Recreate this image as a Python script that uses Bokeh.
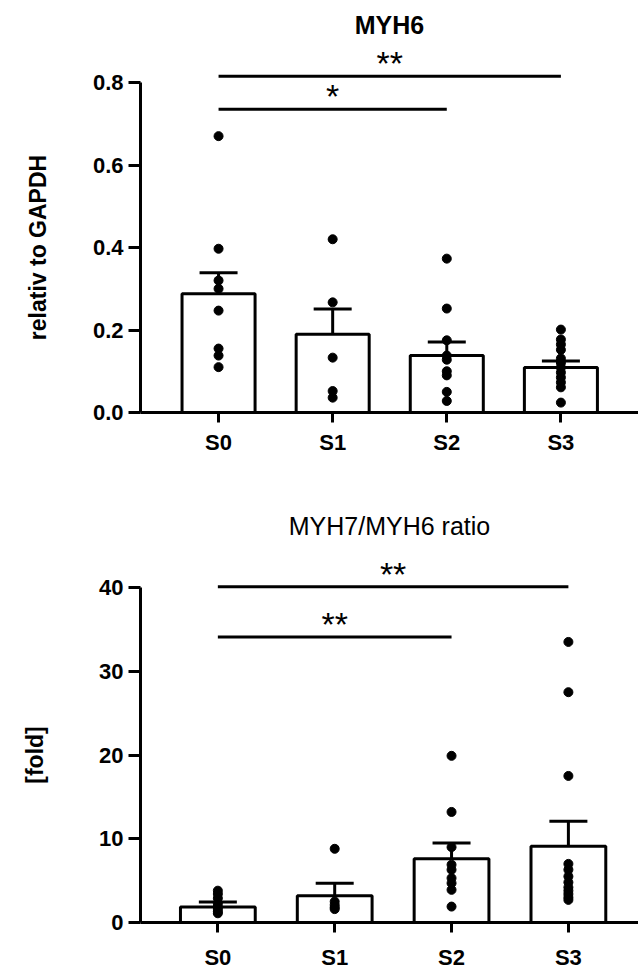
from bokeh.plotting import figure
from bokeh.layouts import column
from bokeh.models import Range1d, FixedTicker, Whisker, TeeHead, ColumnDataSource, Label
from bokeh.embed import file_html
from bokeh.resources import INLINE
from bokeh.core.properties import value

categories = ["S0", "S1", "S2", "S3"]

# ---- MYH6 (relative to GAPDH) ----
myh6_means = [0.288, 0.19, 0.138, 0.109]
myh6_sem = [0.051, 0.061, 0.033, 0.016]
myh6_S0 = [0.67, 0.397, 0.32, 0.30, 0.247, 0.155, 0.138, 0.11]
myh6_S1 = [0.42, 0.267, 0.133, 0.052, 0.036]
myh6_S2 = [0.373, 0.252, 0.175, 0.138, 0.128, 0.10, 0.09, 0.05, 0.028]
myh6_S3 = [0.201, 0.177, 0.165, 0.152, 0.131, 0.12, 0.109, 0.097, 0.085, 0.073, 0.061, 0.024]
myh6_sig_from = [0, 0]
myh6_sig_to = [2, 3]
myh6_sig_y = [0.735, 0.815]
myh6_sig_label = ["*", "**"]
myh6_yticks = [0.0, 0.2, 0.4, 0.6, 0.8]

# ---- MYH7/MYH6 ratio ----
ratio_means = [1.84, 3.2, 7.6, 9.1]
ratio_sem = [0.6, 1.5, 1.9, 3.0]
ratio_S0 = [3.8, 3.4, 2.9, 2.3, 1.9, 1.6, 1.3, 1.1]
ratio_S1 = [8.8, 2.5, 2.1, 1.8, 1.6]
ratio_S2 = [19.9, 13.2, 9.0, 6.9, 6.3, 5.3, 4.7, 3.9, 1.9]
ratio_S3 = [33.5, 27.5, 17.5, 7.0, 6.3, 5.5, 4.8, 4.2, 3.8, 3.4, 3.0, 2.7]
ratio_sig_from = [0, 0]
ratio_sig_to = [2, 3]
ratio_sig_y = [34.1, 40.1]
ratio_sig_label = ["**", "**"]
ratio_yticks = [0, 10, 20, 30, 40]

FONT = "Liberation Sans"
W = 638
AXIS_PX = 140  # pixel position of the y axis line


def panel(title, title_style, ylabel, means, sems, groups, sig_from, sig_to, sig_y, sig_label,
          yticks, x_axis, x_end, height, zero_px, px_per_unit, title_px, label_px,
          x_standoff, fmt):
    unit = (W - AXIS_PX) / (x_end - x_axis)
    x_start = x_axis - AXIS_PX / unit
    y_end = zero_px / px_per_unit
    y_start = -(height - zero_px) / px_per_unit
    p = figure(width=W, height=height, output_backend="svg", toolbar_location=None,
               x_range=Range1d(x_start, x_end), y_range=Range1d(y_start, y_end),
               min_border_left=0, min_border_right=0, min_border_top=0,
               min_border_bottom=0)
    p.outline_line_color = None
    p.xgrid.visible = False
    p.ygrid.visible = False
    p.background_fill_color = "white"
    p.border_fill_color = "white"

    xs = list(range(len(categories)))
    p.vbar(x=xs, top=means, width=0.64, fill_color="white", line_color="black", line_width=3)

    src = ColumnDataSource(dict(x=xs, upper=[m + s for m, s in zip(means, sems)],
                                lower=[m - s for m, s in zip(means, sems)]))
    w = Whisker(source=src, base="x", upper="upper", lower="lower", line_width=3,
                line_color="black",
                upper_head=TeeHead(size=38, line_width=3, line_color="black"),
                lower_head=TeeHead(size=38, line_width=3, line_color="black"))
    p.add_layout(w)

    px, py = [], []
    for i, g in enumerate(groups):
        px += [i] * len(g)
        py += g
    p.scatter(px, py, size=9, color="black")

    p.segment(x0=sig_from, x1=sig_to, y0=sig_y, y1=sig_y, line_width=3, line_color="black")
    mids = [(a + b) / 2 for a, b in zip(sig_from, sig_to)]
    p.text(x=mids, y=sig_y, text=sig_label, text_align="center", text_baseline="alphabetic",
           y_offset=-13, text_font=value(FONT), text_font_size="34px", text_color="black")

    xa = p.xaxis[0]
    xa.fixed_location = 0
    xa.ticker = FixedTicker(ticks=xs)
    xa.major_label_overrides = {i: c for i, c in enumerate(categories)}
    xa.bounds = (x_axis, x_end)
    xa.axis_line_width = 3
    xa.major_tick_line_width = 3
    xa.major_tick_out = 10
    xa.major_tick_in = 0
    xa.minor_tick_line_color = None
    xa.major_label_standoff = x_standoff
    xa.major_label_text_font = FONT
    xa.major_label_text_font_size = "22px"
    xa.major_label_text_font_style = "bold"
    xa.major_label_text_color = "black"

    ya = p.yaxis[0]
    ya.fixed_location = x_axis
    ya.ticker = FixedTicker(ticks=yticks)
    ya.major_label_overrides = {t: fmt(t) for t in yticks}
    ya.bounds = (yticks[0], yticks[-1])
    ya.axis_line_width = 3
    ya.major_tick_line_width = 3
    ya.major_tick_out = 12
    ya.major_tick_in = 0
    ya.minor_tick_line_color = None
    ya.major_label_standoff = 5
    ya.major_label_text_font = FONT
    ya.major_label_text_font_size = "22px"
    ya.major_label_text_font_style = "bold"
    ya.major_label_text_color = "black"

    # y-axis title centred on the axis extent
    p.add_layout(Label(x=x_start, y=(yticks[0] + yticks[-1]) / 2, x_offset=label_px,
                       text=ylabel, angle=90, angle_units="deg", text_align="center",
                       text_baseline="middle", text_font=FONT, text_font_size="23px",
                       text_font_style="bold", text_color="black"))
    # chart title centred over the x axis
    p.add_layout(Label(x=(x_axis + x_end) / 2, y=y_end, y_offset=-title_px,
                       text=title, text_align="center", text_baseline="middle",
                       text_font=FONT, text_font_size="25px", text_font_style=title_style,
                       text_color="black"))
    return p


p1 = panel("MYH6", "bold", "relativ to GAPDH", myh6_means, myh6_sem,
           [myh6_S0, myh6_S1, myh6_S2, myh6_S3],
           myh6_sig_from, myh6_sig_to, myh6_sig_y, myh6_sig_label,
           myh6_yticks, -0.684, 3.68, 470, 412, 412.5, 24, 37, 7, lambda t: f"{t:.1f}")

p2 = panel("MYH7/MYH6 ratio", "normal", "[fold]", ratio_means, ratio_sem,
           [ratio_S0, ratio_S1, ratio_S2, ratio_S3],
           ratio_sig_from, ratio_sig_to, ratio_sig_y, ratio_sig_label,
           ratio_yticks, -0.662, 3.60, 498, 452, 8.375, 55, 34, 12, lambda t: f"{t:d}")

layout = column(p1, p2)
open("out.html", "w").write(file_html(layout, INLINE))
